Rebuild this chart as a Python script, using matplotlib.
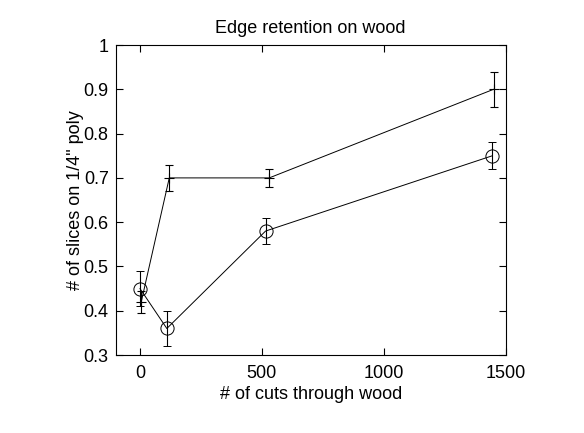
import matplotlib
matplotlib.use("Agg")
import matplotlib.pyplot as plt

# series drawn with '+' markers
cuts_plus = [5, 120, 530, 1450]
slices_plus = [0.42, 0.70, 0.70, 0.90]
err_plus = [0.025, 0.03, 0.02, 0.04]

# series drawn with 'o' markers
cuts_circ = [0, 110, 515, 1445]
slices_circ = [0.45, 0.36, 0.58, 0.75]
err_circ = [0.04, 0.04, 0.03, 0.03]

xticks = [0, 500, 1000, 1500]
yticks = [0.3, 0.4, 0.5, 0.6, 0.7, 0.8, 0.9, 1.0]
ytick_labels = ["0.3", "0.4", "0.5", "0.6", "0.7", "0.8", "0.9", "1"]

plt.rcParams['font.family'] = ['Liberation Sans', 'DejaVu Sans']

fig = plt.figure(figsize=(5.84, 4.33), dpi=100)
ax = fig.add_axes([0.198, 0.18, 0.668, 0.716])

ax.errorbar(cuts_plus, slices_plus, yerr=err_plus, fmt='+-', color='k',
            linewidth=0.7, elinewidth=0.8, capsize=3, markersize=7,
            markeredgewidth=0.8)
ax.errorbar(cuts_circ, slices_circ, yerr=err_circ, fmt='o-', color='k',
            mfc='none', linewidth=0.7, elinewidth=0.8, capsize=3,
            markersize=9.5, markeredgewidth=0.7)

ax.set_xlim(-100, 1500)
ax.set_ylim(0.3, 1.0)
ax.set_xticks(xticks)
ax.set_yticks(yticks)
ax.set_yticklabels(ytick_labels)
ax.tick_params(direction='in', top=True, right=True, length=5, labelsize=13)
ax.tick_params(axis='x', pad=7)
ax.tick_params(axis='y', pad=5)
for s in ax.spines.values():
    s.set_linewidth(0.8)

ax.set_xlabel("# of cuts through wood", fontsize=13, labelpad=3)
ax.set_ylabel("# of slices on 1/4\" poly", fontsize=13, labelpad=0)
ax.set_title("Edge retention on wood", fontsize=13, pad=9)

fig.savefig("out.png", dpi=100)
